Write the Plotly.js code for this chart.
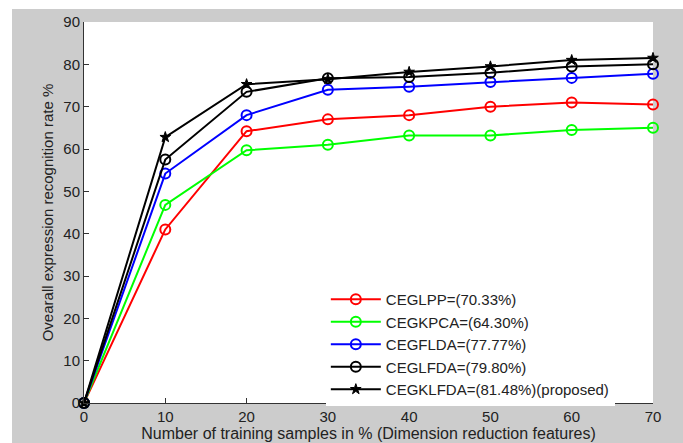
<!DOCTYPE html>
<html>
<head>
<meta charset="utf-8">
<script src="https://cdn.plot.ly/plotly-3.0.1.min.js"></script>
<style>
html,body{margin:0;padding:0;background:#ffffff;width:683px;height:443px;overflow:hidden;}
#chart{position:absolute;left:12px;top:9px;width:671px;height:434px;}
</style>
</head>
<body>
<div id="chart"></div>
<script>
const xSamples = [0, 10, 20, 30, 40, 50, 60, 70];
const ceglpp   = [0, 41.0, 64.2, 67.0, 68.0, 70.0, 71.0, 70.5];
const cegkpca  = [0, 46.8, 59.7, 61.0, 63.2, 63.2, 64.5, 65.0];
const cegflda  = [0, 54.2, 68.0, 74.0, 74.7, 75.8, 76.8, 77.8];
const ceglfda  = [0, 57.5, 73.5, 76.7, 77.0, 78.0, 79.5, 80.0];
const cegklfda = [0, 62.8, 75.3, 76.5, 78.2, 79.5, 81.0, 81.5];
const seriesNames = ["CEGLPP=(70.33%)", "CEGKPCA=(64.30%)", "CEGFLDA=(77.77%)", "CEGLFDA=(79.80%)", "CEGKLFDA=(81.48%)(proposed)"];
const xTicks = [0, 10, 20, 30, 40, 50, 60, 70];
const yTicks = [0, 10, 20, 30, 40, 50, 60, 70, 80, 90];

const fontFam = "Liberation Sans, Arial, sans-serif";
function circTrace(y, name, color){
  return {x: xSamples, y: y, name: name, type: 'scatter', mode: 'lines+markers', cliponaxis: false,
    line: {color: color, width: 2},
    marker: {symbol: 'circle-open', size: 10, color: color, line: {width: 2, color: color}}};
}
const traces = [
  circTrace(ceglpp, seriesNames[0], '#ff0000'),
  circTrace(cegkpca, seriesNames[1], '#00ff00'),
  circTrace(cegflda, seriesNames[2], '#0000ff'),
  circTrace(ceglfda, seriesNames[3], '#000000'),
  {x: xSamples, y: cegklfda, name: seriesNames[4], type: 'scatter', mode: 'lines+markers', cliponaxis: false,
   line: {color: '#000000', width: 2},
   marker: {symbol: 'star', size: 8, color: '#000000', line: {width: 1, color: '#000000'}}}
];
const layout = {
  width: 671, height: 434,
  paper_bgcolor: '#cccccc', plot_bgcolor: '#ffffff',
  margin: {l: 72, r: 30, t: 13, b: 40},
  font: {family: fontFam, size: 14, color: '#222222'},
  showlegend: true,
  legend: {x: 0.425, y: 0.315, xanchor: 'left', yanchor: 'top', bgcolor: '#ffffff', borderwidth: 0,
           font: {family: fontFam, size: 15, color: '#222222'}, itemwidth: 50, tracegroupgap: 0},
  xaxis: {range: [0, 70], tickvals: xTicks, ticktext: xTicks.map(String), showgrid: false, zeroline: false,
          showline: true, linecolor: '#333333', linewidth: 1, mirror: false,
          ticks: 'inside', ticklen: 5, tickcolor: '#333333',
          tickfont: {family: fontFam, size: 15, color: '#222222'},
          title: {text: 'Number of training samples in % (Dimension reduction features)', standoff: 3,
                  font: {family: fontFam, size: 16, color: '#222222'}}},
  yaxis: {range: [0, 90], tickvals: yTicks, ticktext: yTicks.map(String), showgrid: false, zeroline: false,
          showline: true, linecolor: '#333333', linewidth: 1, mirror: false,
          ticks: 'inside', ticklen: 5, tickcolor: '#333333',
          tickfont: {family: fontFam, size: 15, color: '#222222'},
          title: {text: 'Ovearall expression recognition rate %', standoff: 6,
                  font: {family: fontFam, size: 15, color: '#222222'}}}
};
Plotly.newPlot('chart', traces, layout, {displayModeBar: false, staticPlot: true});
</script>
</body>
</html>
